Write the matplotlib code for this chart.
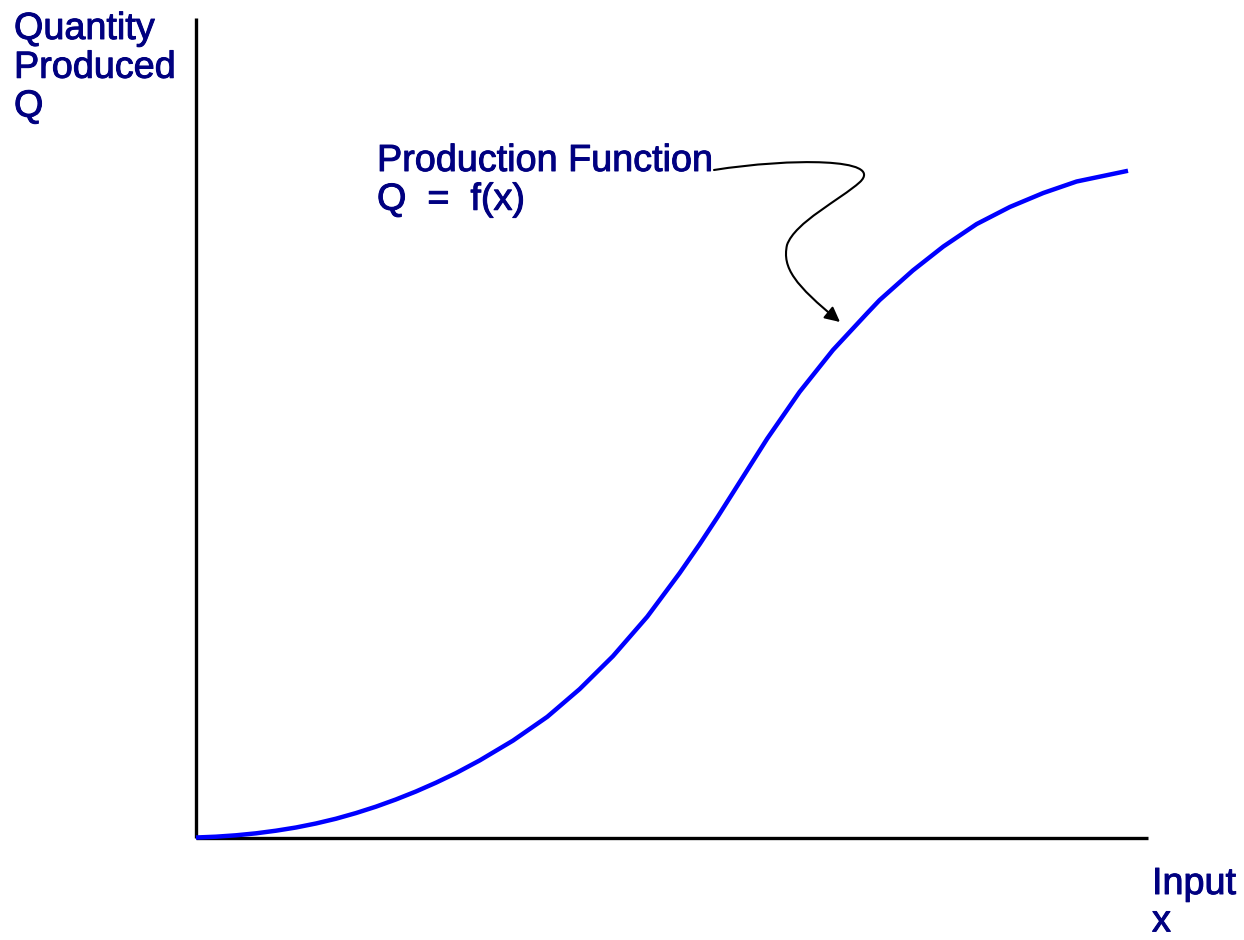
import matplotlib
matplotlib.use("Agg")
import matplotlib.pyplot as plt
import matplotlib.patheffects as pe
from matplotlib.path import Path
from matplotlib.patches import FancyArrowPatch

# Production function curve (x: input, y: quantity)
input_x = [0, 0.21, 0.42, 0.63, 0.84, 1.05, 1.26, 1.47, 1.68, 1.89, 2.10, 2.31,
           2.52, 2.73, 2.98, 3.33, 3.69, 4.03, 4.38, 4.74, 5.08, 5.29, 5.48,
           5.64, 6.00, 6.34, 6.69, 7.05, 7.18, 7.53, 7.85, 8.20, 8.55, 8.90,
           9.25, 9.79]
quantity_q = [0.006, 0.016, 0.033, 0.057, 0.089, 0.128, 0.177, 0.235, 0.304,
              0.382, 0.470, 0.567, 0.674, 0.791, 0.946, 1.188, 1.478, 1.816,
              2.218, 2.699, 3.230, 3.582, 3.917, 4.210, 4.870, 5.440, 5.950,
              6.400, 6.559, 6.921, 7.213, 7.487, 7.696, 7.866, 8.006, 8.137]

y_label = "Quantity\nProduced\nQ"
x_label = "Input\nx"
annot_text = "Production Function\nQ  =  f(x)"

NAVY = "#000080"
plt.rcParams['font.family'] = ['Liberation Sans', 'DejaVu Sans']

W, H = 1244, 940
fig = plt.figure(figsize=(W / 100, H / 100), dpi=100)
ax = fig.add_axes([196 / W, (H - 838) / H, 952 / W, 820 / H])
ax.set_xlim(0, 10)
ax.set_ylim(0, 10)
for s in ("top", "right"):
    ax.spines[s].set_visible(False)
for s in ("left", "bottom"):
    ax.spines[s].set_linewidth(2.4)
    ax.spines[s].set_color("black")
    ax.spines[s].set_capstyle("butt")
ax.set_xticks([])
ax.set_yticks([])

ax.plot(input_x, quantity_q, color="#0000ff", lw=3.2, solid_capstyle="butt",
        solid_joinstyle="round", clip_on=False, zorder=3)

def px(xp, yp):
    return ((xp - 196) / 95.2, (838 - yp) / 82.0)

effects = [pe.withStroke(linewidth=0.7, foreground=NAVY)]
kw = dict(color=NAVY, fontsize=27.2, ha="left", va="top", linespacing=1.1,
          path_effects=effects)
fig.text(14 / W, 1 - 11 / H, y_label, **kw)
fig.text(1152 / W, 1 - 866 / H,
         x_label, **dict(kw, linespacing=1.05))
fig.text(377 / W, 1 - 143 / H, annot_text, **kw)

verts = [px(714, 170),
         px(790, 158), px(885, 158), px(860, 182),
         px(840, 200), px(795, 222), px(787, 245),
         px(782, 268), px(795, 285), px(840, 322)]
codes = [Path.MOVETO] + [Path.CURVE4] * 9
path = Path(verts, codes)
arrow = FancyArrowPatch(path=path, arrowstyle="-|>,head_length=0.6,head_width=0.3",
                        mutation_scale=15, color="black", lw=1.5, zorder=4)
ax.add_patch(arrow)

fig.savefig("out.png", dpi=100)
